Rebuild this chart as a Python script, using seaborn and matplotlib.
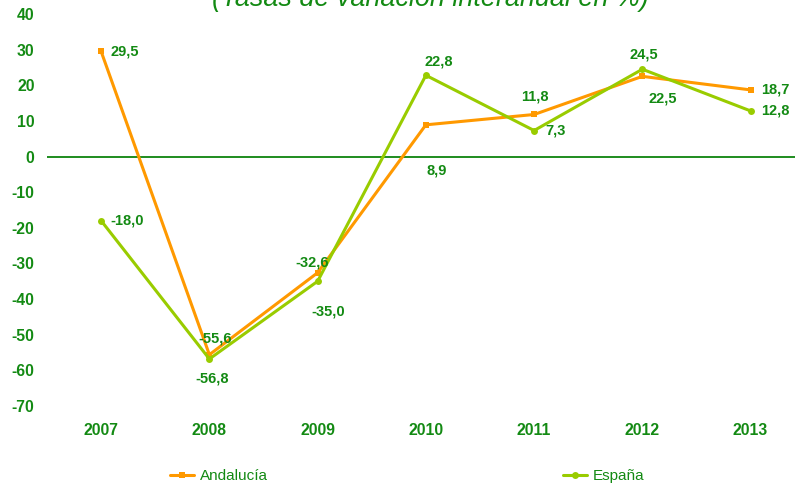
import matplotlib
matplotlib.use("Agg")
import matplotlib.pyplot as plt
import seaborn as sns
import pandas as pd

years = [2007, 2008, 2009, 2010, 2011, 2012, 2013]
andalucia = [29.5, -55.6, -32.6, 8.9, 11.8, 22.5, 18.7]
espana = [-18.0, -56.8, -35.0, 22.8, 7.3, 24.5, 12.8]
title = "(Tasas de variación interanual en %)"
yticks = [40, 30, 20, 10, 0, -10, -20, -30, -40, -50, -60, -70]

# label offsets in pixels (dx, dy, ha)
off_and = [(9, 0, "left"), (6, 16, "center"), (-5, 10, "center"), (11, -46, "center"),
           (1, 18, "center"), (20, -22, "center"), (11, 0, "left")]
off_esp = [(9, 0, "left"), (3, -20, "center"), (11, -30, "center"), (13, 14, "center"),
           (11, 0, "left"), (1, 15, "center"), (11, 0, "left")]

sns.set_style("white")
plt.rcParams["font.family"] = ["Liberation Sans", "DejaVu Sans"]

ORANGE = "#FF9900"
LIME = "#99CC00"
GREEN = "#138A13"

df = pd.DataFrame({"year": years * 2,
                   "value": andalucia + espana,
                   "serie": ["Andalucía"] * 7 + ["España"] * 7})

fig = plt.figure(figsize=(7.95, 4.91), dpi=100)
ax = fig.add_axes([47 / 795, 1 - 406 / 491, (795 - 47) / 795, (406 - 14) / 491])

sns.lineplot(data=df[df.serie == "Andalucía"], x="year", y="value", ax=ax,
             color=ORANGE, lw=2.2, marker="s", markersize=4.5, markeredgewidth=0,
             label="Andalucía", legend=False)
sns.lineplot(data=df[df.serie == "España"], x="year", y="value", ax=ax,
             color=LIME, lw=2.2, marker="o", markersize=5, markeredgewidth=0,
             label="España", legend=False)

ax.axhline(0, color="#1E8C1E", lw=1.4, zorder=1)

ax.set_xlim(2006.5, 2013.41)
ax.set_ylim(-70, 40)
ax.set_xticks(years)
ax.set_xticklabels([str(y) for y in years])
ax.set_yticks(yticks)
ax.set_yticklabels([str(t) for t in yticks])
ax.tick_params(axis="both", length=0, labelcolor=GREEN, labelsize=11.3)
ax.tick_params(axis="y", pad=9)
ax.tick_params(axis="x", pad=12)
for lab in ax.get_xticklabels() + ax.get_yticklabels():
    lab.set_fontweight("bold")
ax.set_xlabel("")
ax.set_ylabel("")
for s in ax.spines.values():
    s.set_visible(False)

def fmt(v):
    return f"{v:.1f}".replace(".", ",")

for x, v, (dx, dy, ha) in zip(years, andalucia, off_and):
    ax.annotate(fmt(v), (x, v), xytext=(dx, dy), textcoords="offset pixels",
                ha=ha, va="center", color=GREEN, fontweight="bold", fontsize=10.5)
for x, v, (dx, dy, ha) in zip(years, espana, off_esp):
    ax.annotate(fmt(v), (x, v), xytext=(dx, dy), textcoords="offset pixels",
                ha=ha, va="center", color=GREEN, fontweight="bold", fontsize=10.5)

fig.text(430 / 795, 1 - 6 / 491, title, ha="center", va="baseline",
         fontsize=19.4, style="italic", color=GREEN)

h, l = ax.get_legend_handles_labels()
leg = fig.legend(h, l, ncol=2, loc="center left",
                 bbox_to_anchor=(170 / 795, 1 - 476 / 491), frameon=False,
                 borderaxespad=0, borderpad=0, handlelength=1.6, handletextpad=0.35,
                 columnspacing=19.3, fontsize=11)
for t in leg.get_texts():
    t.set_color(GREEN)

fig.savefig("out.png", dpi=100)
